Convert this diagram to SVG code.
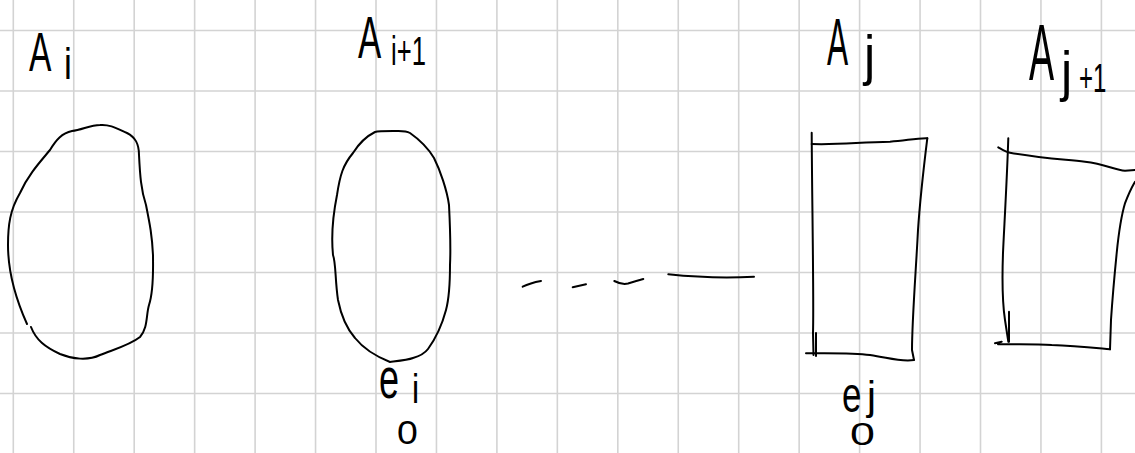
<svg xmlns="http://www.w3.org/2000/svg" width="1135" height="453" viewBox="0 0 1135 453">
<style>
.grid{stroke:#d3d3d3;stroke-width:1.6;fill:none}
.ink{stroke:#000;stroke-width:2;fill:none;stroke-linecap:round;stroke-linejoin:round}
.lbl{font-family:"Liberation Sans",Arial,sans-serif;fill:#000}
</style>
<rect width="1135" height="453" fill="#fff"/>
<g id="grid" class="grid">
<path d="M13.3,0V453M73.75,0V453M134.2,0V453M194.65,0V453M255.1,0V453M315.55,0V453M376,0V453M436.45,0V453M496.9,0V453M557.35,0V453M617.8,0V453M678.25,0V453M738.7,0V453M799.15,0V453M859.6,0V453M920.05,0V453M980.5,0V453M1040.95,0V453M1101.4,0V453"/>
<path d="M0,30.5H1135M0,91H1135M0,151.5H1135M0,212H1135M0,272.5H1135M0,333H1135M0,393.5H1135"/>
</g>
<g id="node-Ai">
<path class="ink" d="M31,327 C36,340 45,347 60,354 C72,359 88,361 100,355 C115,349 130,345 140,337 C148,328 146,315 149,305 C154,290 153,270 153,255 C152,235 150,225 146,205 C141,190 140,175 139,155 C139,143 135,137 127,133 C118,129 110,124 100,125 C90,125 82,130 72,131 C62,133 56,140 50,150 C40,162 28,175 20,193 C10,210 8,225 8,245 C8,270 14,295 27,324"/>
<text class="lbl" font-size="56" transform="translate(29,71) scale(0.6,1)">A</text>
<text class="lbl" font-size="44" transform="translate(64,79) scale(0.8,1)">i</text>
</g>
<g id="node-Ai1">
<path class="ink" d="M393,131 C385,131 378,131 375,132 C365,137 358,145 353,153 C343,165 340,175 337,195 C333,215 331,235 333,255 C336,263 335,280 338,300 C342,320 348,330 355,338 C363,348 375,356 390,362 C398,361 408,360 413,358 C420,356 425,353 428,349 C436,338 442,325 446,310 C450,295 450,280 450,265 C451,245 450,225 449,205 C447,190 440,170 434,158 C428,148 420,140 410,133 C405,130 398,131 393,131 Z"/>
<text class="lbl" font-size="60" transform="translate(358,58) scale(0.58,1)">A</text>
<text class="lbl" font-size="40" transform="translate(391,65) scale(0.64,1)">i+1</text>
<text class="lbl" font-size="58" transform="translate(379,398) scale(0.62,1)">e</text>
<text class="lbl" font-size="40" transform="translate(412,403) scale(0.8,1)">i</text>
<text class="lbl" font-size="34" transform="translate(397,444) scale(1.1,1)">0</text>
</g>
<g id="node-Aj">
<path class="ink" d="M811.7,132.7 C812,200 814,300 813,333 L813.5,355"/>
<path class="ink" d="M811.7,144 C840,145 860,142 890,141.7 C905,141 915,138 927.3,138.3"/>
<path class="ink" d="M927.3,138.3 C924,165 920,200 918,230 C916,270 912,320 912,350 L914,360"/>
<path class="ink" d="M806,353.3 C830,353 856,353 870,355 C890,358 900,362 914,360"/>
<path class="ink" d="M816,333 L816,356"/>
<text class="lbl" font-size="66" transform="translate(827,65) scale(0.48,1)">A</text>
<text class="lbl" font-size="56" transform="translate(864,74) scale(0.9,1)">j</text>
<text class="lbl" font-size="50" transform="translate(842,412) scale(0.7,1)">e</text>
<text class="lbl" font-size="40" transform="translate(867,410) scale(1,1)">j</text>
<text class="lbl" font-size="32" transform="translate(850,445) scale(1.4,1)">0</text>
</g>
<g id="node-Aj1">
<path class="ink" d="M1008.3,138.3 C1007,180 1004,230 1003,253 C1002,280 1002,300 1005,320 L1008.3,341.7"/>
<path class="ink" d="M1009,311.7 L1009,341.7"/>
<path class="ink" d="M998.3,147.3 C1003,150 1006,152 1010,152.7 C1040,158 1060,159 1085,161.7 C1105,164 1115,170 1125,170.7 L1135,170"/>
<path class="ink" d="M1135,181.7 C1130,190 1127,198 1125,203.3 C1120,220 1118,240 1116.7,253 C1114,280 1112,305 1111,320 L1110,349.3"/>
<path class="ink" d="M995,343.3 L1001.7,341.7 M998,344.3 C1020,344 1040,344 1051.7,345 C1075,346 1095,348 1110,349.3"/>
<text class="lbl" font-size="80" transform="translate(1029,80) scale(0.47,1)">A</text>
<text class="lbl" font-size="56" transform="translate(1061,90) scale(0.9,1)">j</text>
<text class="lbl" font-size="40" transform="translate(1079,92) scale(0.6,1)">+1</text>
</g>
<g id="connectors" class="ink">
<path d="M522.7,286.7 Q530,283 541,281"/>
<path d="M572.7,287.3 L586,284.3"/>
<path d="M614.3,281 Q622,285 628,283.5 Q636,281 643.3,279"/>
<path d="M668.3,274.3 Q713,279 754,276.7"/>
</g>
</svg>
